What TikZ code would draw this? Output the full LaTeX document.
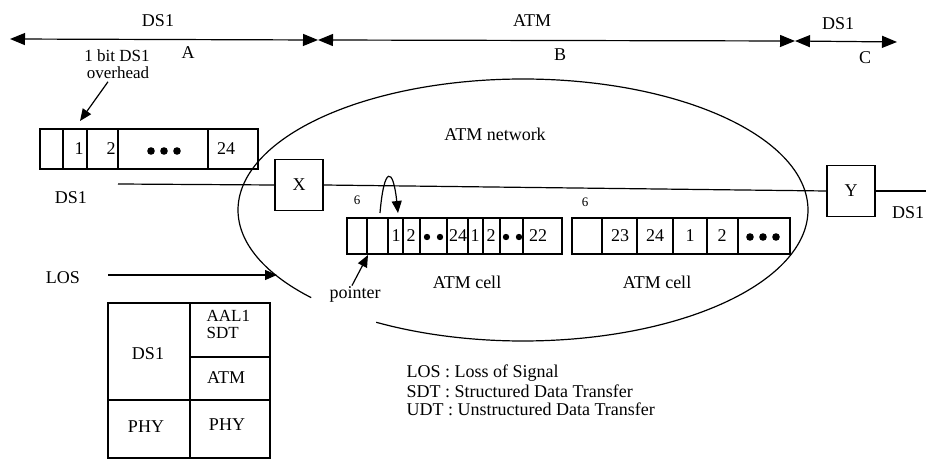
\documentclass[tikz,border=0pt]{standalone}
\usepackage{fontspec}
\setmainfont{Liberation Serif}
\usetikzlibrary{arrows.meta}
\begin{document}
\begin{tikzpicture}[x=1pt,y=-1pt,line width=1.2pt,
  font=\fontsize{18}{20}\selectfont,
  lbl/.style={inner sep=0pt},
  tight/.style={inner sep=0pt,font=\fontsize{17}{19}\selectfont},
  small/.style={inner sep=0pt,font=\fontsize{13}{15}\selectfont},
  dbl/.style={{Triangle[length=15pt,width=12pt]}-{Triangle[length=15pt,width=12pt]}},
  arr/.style={-{Triangle[length=12pt,width=10pt]}},
  sbox/.style={draw,inner sep=0pt,minimum width=48pt,minimum height=51pt},
  dot/.style={fill=black}]
\useasboundingbox (0,0) rectangle (926,462);

% top span arrows
\coordinate (a0) at (10,39);
\coordinate (a1) at (318,40);
\coordinate (a2) at (795,41);
\coordinate (a3) at (897,42);
\draw[dbl] (a0) -- (a1);
\draw[dbl] (a1) -- (a2);
\draw[dbl] (a2) -- (a3);
\node[lbl] (tDS1) at (158,21) {DS1};
\node[lbl] (tA) at (188,53) {A};
\node[lbl] (tATM) at (532,21) {ATM};
\node[lbl] (tB) at (560,55) {B};
\node[lbl] (tDS1c) at (838,24) {DS1};
\node[lbl] (tC) at (865,58) {C};

% ellipse (ATM network), with a gap near "pointer"
\draw plot[domain=138:481,samples=160,smooth] ({523+285*cos(\x)},{210+131*sin(\x)});
\node[lbl] (net) at (495,134) {ATM network};

% DS1 frame
\draw (40,129) rectangle (258,169);
\foreach \xx in {63,87,118,208} \draw (\xx,129) -- (\xx,169);
\node[lbl] (f1) at (79,149) {1};
\node[lbl] (f2) at (111,149) {2};
\foreach \xx in {151,164,177} \fill[dot] (\xx,151) circle (3.8);
\node[lbl] (f24) at (226,149) {24};
\coordinate (ovtip) at (80,121);
\node[tight,anchor=base] (ovh1) at (117,62) {1 bit DS1};
\node[tight,anchor=base] (ovh) at (118,79) {overhead};
\draw[arr] ([xshift=-10pt,yshift=-2pt]ovh.south) -- (ovtip);

% DS1 line with X and Y
\node[sbox] (X) at (299,185) {X};
\node[sbox] (Y) at (851,191) {Y};
\coordinate (l0) at (118,184);
\coordinate (l1) at (926,191);
\draw (l0) -- (X.west);
\draw (X.east) -- (Y.west);
\draw (Y.east) -- (l1);
\node[lbl] (dsl) at (71,198) {DS1};
\node[lbl] (dsr) at (908,213) {DS1};

% ATM cell 1
\node[small] (six1) at (357,200) {6};
\draw (347,218) rectangle (562,254);
\foreach \xx in {367,388,403,420,447,468,483,500,523} \draw (\xx,218) -- (\xx,254);
\node[lbl] (c1a) at (396,236) {1};
\node[lbl] (c1b) at (411,236) {2};
\fill[dot] (427,237) circle (3.2);
\fill[dot] (440,237) circle (3.2);
\node[lbl] (c1c) at (458,236) {24};
\node[lbl] (c1d) at (475,236) {1};
\node[lbl] (c1e) at (491,236) {2};
\fill[dot] (506,237) circle (3.2);
\fill[dot] (519,237) circle (3.2);
\node[lbl] (c1f) at (538,236) {22};
\node[lbl] (cell1) at (467,282) {ATM cell};

% ATM cell 2
\node[small] (six2) at (585,202) {6};
\draw (572,218) rectangle (790,254);
\foreach \xx in {602,637,673,707,738} \draw (\xx,218) -- (\xx,254);
\node[lbl] (c2a) at (620,236) {23};
\node[lbl] (c2b) at (655,236) {24};
\node[lbl] (c2c) at (690,236) {1};
\node[lbl] (c2d) at (722,236) {2};
\foreach \xx in {750,763,776} \fill[dot] (\xx,237) circle (3.8);
\node[lbl] (cell2) at (657,282) {ATM cell};

% pointer
\node[lbl] (ptr) at (355,294) {pointer};
\coordinate (ptip) at (368,255);
\draw[arr] ([xshift=-3pt]ptr.north) -- (ptip);
\coordinate (lp0) at (380,213);
\coordinate (lp1) at (398,213);
\draw[arr] (lp0) .. controls (384,166) and (393,166) .. (lp1);

% LOS
\node[lbl] (los) at (63,278) {LOS};
\coordinate (lostip) at (277,275);
\draw[arr] (108,275) -- (lostip);

% protocol stack table
\draw (108,303) rectangle (270,458);
\draw (190,303) -- (190,458);
\draw (108,400) -- (270,400);
\draw (190,357) -- (270,357);
\node[lbl] (sDS1) at (148,354) {DS1};
\node[tight,anchor=base west] (sAAL) at (206,321) {AAL1};
\node[tight,anchor=base west] (sSDT) at (206,338) {SDT};
\node[lbl] (sATM) at (226,378) {ATM};
\node[lbl] (sPHY1) at (146,427) {PHY};
\node[lbl] (sPHY2) at (227,425) {PHY};

% legend
\node[lbl,anchor=west] (lg1) at (406,373) {LOS : Loss of Signal};
\node[lbl,anchor=west] (lg2) at (406,391) {SDT : Structured Data Transfer};
\node[lbl,anchor=west] (lg3) at (406,409) {UDT : Unstructured Data Transfer};
\end{tikzpicture}
\end{document}
